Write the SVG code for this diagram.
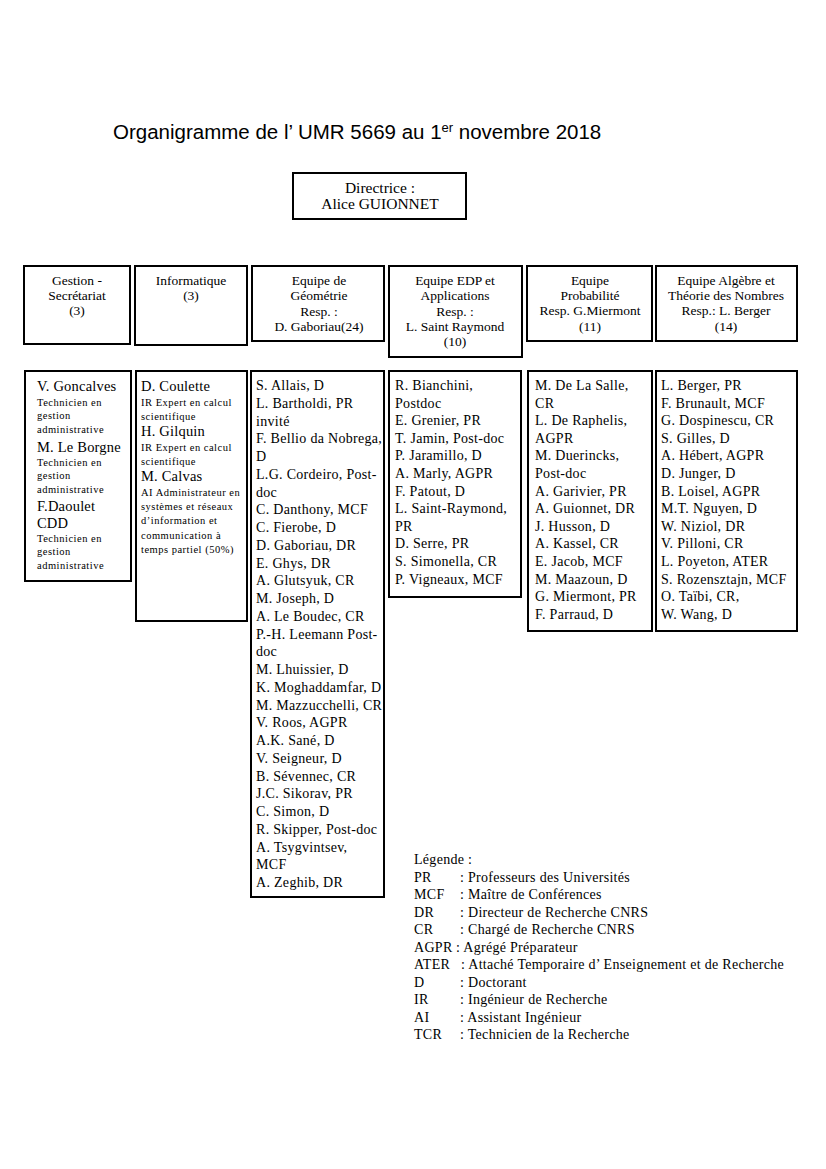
<svg xmlns="http://www.w3.org/2000/svg" width="826" height="1169" viewBox="0 0 826 1169">
<style>
.bx{fill:#fff;stroke:#000;stroke-width:2}
.t{font-family:"Liberation Serif","Times New Roman",serif;fill:#000}
.h{font-size:13.5px;text-anchor:middle}
.n{font-size:14px;letter-spacing:0.3px}
.nm{font-size:14.5px;letter-spacing:0.2px}
.ds{font-size:10.5px;letter-spacing:0.5px}
.lg{font-size:14px;letter-spacing:0.3px}
.title{font-family:"Liberation Sans",Arial,sans-serif;font-size:20.5px;fill:#000}
</style>
<rect width="826" height="1169" fill="#fff"/>
<text class="title" x="113" y="139">Organigramme de l’ UMR 5669 au 1<tspan font-size="13" dy="-7">er</tspan><tspan dy="7"> novembre 2018</tspan></text>

<g id="directrice">
<rect class="bx" x="293" y="173" width="173" height="46"/>
<text class="t" x="380" y="193" font-size="15.5" text-anchor="middle">Directrice :</text>
<text class="t" x="380" y="208.5" font-size="15.5" text-anchor="middle">Alice GUIONNET</text>
</g>

<g id="h-gestion">
<rect class="bx" x="24" y="266" width="106" height="78"/>
<text class="t h"><tspan x="77" y="285">Gestion -</tspan><tspan x="77" y="300">Secrétariat</tspan><tspan x="77" y="315">(3)</tspan></text>
</g>
<g id="h-info">
<rect class="bx" x="135" y="266" width="112" height="79"/>
<text class="t h"><tspan x="191" y="285">Informatique</tspan><tspan x="191" y="300">(3)</tspan></text>
</g>
<g id="h-geo">
<rect class="bx" x="252" y="266" width="132" height="75"/>
<text class="t h"><tspan x="319" y="285">Equipe de</tspan><tspan x="319" y="300">Géométrie</tspan><tspan x="319" y="315.5">Resp. :</tspan><tspan x="319" y="330.5">D. Gaboriau(24)</tspan></text>
</g>
<g id="h-edp">
<rect class="bx" x="389" y="266" width="133" height="91"/>
<text class="t h"><tspan x="455" y="285">Equipe EDP et</tspan><tspan x="455" y="300">Applications</tspan><tspan x="455" y="315.5">Resp. :</tspan><tspan x="455" y="330.5">L. Saint Raymond</tspan><tspan x="455" y="345.5">(10)</tspan></text>
</g>
<g id="h-proba">
<rect class="bx" x="527" y="266" width="125" height="75"/>
<text class="t h"><tspan x="590" y="285">Equipe</tspan><tspan x="590" y="300">Probabilité</tspan><tspan x="590" y="315">Resp. G.Miermont</tspan><tspan x="590" y="330.5">(11)</tspan></text>
</g>
<g id="h-algebre">
<rect class="bx" x="656" y="266" width="141" height="75"/>
<text class="t h"><tspan x="726" y="285">Equipe Algèbre et</tspan><tspan x="726" y="300">Théorie des Nombres</tspan><tspan x="726" y="315">Resp.: L. Berger</tspan><tspan x="726" y="330.5">(14)</tspan></text>
</g>

<g id="l-gestion">
<rect class="bx" x="25" y="371" width="106" height="210"/>
<text class="t nm" x="37" y="391">V. Goncalves</text>
<text class="t ds"><tspan x="37" y="405.5">Technicien en</tspan><tspan x="37" y="419">gestion</tspan><tspan x="37" y="432.5">administrative</tspan></text>
<text class="t nm" x="37" y="452">M. Le Borgne</text>
<text class="t ds"><tspan x="37" y="465.5">Technicien en</tspan><tspan x="37" y="479">gestion</tspan><tspan x="37" y="493">administrative</tspan></text>
<text class="t nm"><tspan x="37" y="511">F.Daoulet</tspan><tspan x="37" y="528">CDD</tspan></text>
<text class="t ds"><tspan x="37" y="541.5">Technicien en</tspan><tspan x="37" y="555">gestion</tspan><tspan x="37" y="569">administrative</tspan></text>
</g>

<g id="l-info">
<rect class="bx" x="136" y="371" width="111" height="250"/>
<text class="t nm" x="141" y="391">D. Coulette</text>
<text class="t ds"><tspan x="141" y="405.5">IR Expert en calcul</tspan><tspan x="141" y="419.5">scientifique</tspan></text>
<text class="t nm" x="141" y="436">H. Gilquin</text>
<text class="t ds"><tspan x="141" y="451">IR Expert en calcul</tspan><tspan x="141" y="465">scientifique</tspan></text>
<text class="t nm" x="141" y="481">M. Calvas</text>
<text class="t ds"><tspan x="141" y="496">AI Administrateur en</tspan><tspan x="141" y="510">systèmes et réseaux</tspan><tspan x="141" y="524">d’information et</tspan><tspan x="141" y="538.5">communication à</tspan><tspan x="141" y="553">temps partiel (50%)</tspan></text>
</g>

<g id="l-geo">
<rect class="bx" x="251" y="371" width="133" height="526"/>
<text class="t n"><tspan x="256" y="390">S. Allais, D</tspan><tspan x="256" dy="17.75">L. Bartholdi, PR</tspan><tspan x="256" dy="17.75">invité</tspan><tspan x="256" dy="17.75">F. Bellio da Nobrega,</tspan><tspan x="256" dy="17.75">D</tspan><tspan x="256" dy="17.75">L.G. Cordeiro, Post-</tspan><tspan x="256" dy="17.75">doc</tspan><tspan x="256" dy="17.75">C. Danthony, MCF</tspan><tspan x="256" dy="17.75">C. Fierobe, D</tspan><tspan x="256" dy="17.75">D. Gaboriau, DR</tspan><tspan x="256" dy="17.75">E. Ghys, DR</tspan><tspan x="256" dy="17.75">A. Glutsyuk, CR</tspan><tspan x="256" dy="17.75">M. Joseph, D</tspan><tspan x="256" dy="17.75">A. Le Boudec, CR</tspan><tspan x="256" dy="17.75">P.-H. Leemann Post-</tspan><tspan x="256" dy="17.75">doc</tspan><tspan x="256" dy="17.75">M. Lhuissier, D</tspan><tspan x="256" dy="17.75">K. Moghaddamfar, D</tspan><tspan x="256" dy="17.75">M. Mazzucchelli, CR</tspan><tspan x="256" dy="17.75">V. Roos, AGPR</tspan><tspan x="256" dy="17.75">A.K. Sané, D</tspan><tspan x="256" dy="17.75">V. Seigneur, D</tspan><tspan x="256" dy="17.75">B. Sévennec, CR</tspan><tspan x="256" dy="17.75">J.C. Sikorav, PR</tspan><tspan x="256" dy="17.75">C. Simon, D</tspan><tspan x="256" dy="17.75">R. Skipper, Post-doc</tspan><tspan x="256" dy="17.75">A. Tsygvintsev,</tspan><tspan x="256" dy="17.75">MCF</tspan><tspan x="256" dy="17.75">A. Zeghib, DR</tspan></text>
</g>

<g id="l-edp">
<rect class="bx" x="389" y="371" width="132" height="226"/>
<text class="t n"><tspan x="395" y="390">R. Bianchini,</tspan><tspan x="395" dy="17.6">Postdoc</tspan><tspan x="395" dy="17.6">E. Grenier, PR</tspan><tspan x="395" dy="17.6">T. Jamin, Post-doc</tspan><tspan x="395" dy="17.6">P. Jaramillo, D</tspan><tspan x="395" dy="17.6">A. Marly, AGPR</tspan><tspan x="395" dy="17.6">F. Patout, D</tspan><tspan x="395" dy="17.6">L. Saint-Raymond,</tspan><tspan x="395" dy="17.6">PR</tspan><tspan x="395" dy="17.6">D. Serre, PR</tspan><tspan x="395" dy="17.6">S. Simonella, CR</tspan><tspan x="395" dy="17.6">P. Vigneaux, MCF</tspan></text>
</g>

<g id="l-proba">
<rect class="bx" x="528" y="371" width="124" height="260"/>
<text class="t n"><tspan x="535" y="390">M. De La Salle,</tspan><tspan x="535" dy="17.6">CR</tspan><tspan x="535" dy="17.6">L. De Raphelis,</tspan><tspan x="535" dy="17.6">AGPR</tspan><tspan x="535" dy="17.6">M. Duerincks,</tspan><tspan x="535" dy="17.6">Post-doc</tspan><tspan x="535" dy="17.6">A. Garivier, PR</tspan><tspan x="535" dy="17.6">A. Guionnet, DR</tspan><tspan x="535" dy="17.6">J. Husson, D</tspan><tspan x="535" dy="17.6">A. Kassel, CR</tspan><tspan x="535" dy="17.6">E. Jacob, MCF</tspan><tspan x="535" dy="17.6">M. Maazoun, D</tspan><tspan x="535" dy="17.6">G. Miermont, PR</tspan><tspan x="535" dy="17.6">F. Parraud, D</tspan></text>
</g>

<g id="l-algebre">
<rect class="bx" x="656" y="371" width="141" height="260"/>
<text class="t n"><tspan x="661" y="390">L. Berger, PR</tspan><tspan x="661" dy="17.6">F. Brunault, MCF</tspan><tspan x="661" dy="17.6">G. Dospinescu, CR</tspan><tspan x="661" dy="17.6">S. Gilles, D</tspan><tspan x="661" dy="17.6">A. Hébert, AGPR</tspan><tspan x="661" dy="17.6">D. Junger, D</tspan><tspan x="661" dy="17.6">B. Loisel, AGPR</tspan><tspan x="661" dy="17.6">M.T. Nguyen, D</tspan><tspan x="661" dy="17.6">W. Niziol, DR</tspan><tspan x="661" dy="17.6">V. Pilloni, CR</tspan><tspan x="661" dy="17.6">L. Poyeton, ATER</tspan><tspan x="661" dy="17.6">S. Rozensztajn, MCF</tspan><tspan x="661" dy="17.6">O. Taïbi, CR,</tspan><tspan x="661" dy="17.6">W. Wang, D</tspan></text>
</g>

<g id="legende" class="t lg">
<text x="414" y="864">Légende :</text>
<text x="414" y="881.5">PR</text><text x="460" y="881.5">: Professeurs des Universités</text>
<text x="414" y="899">MCF</text><text x="460" y="899">: Maître de Conférences</text>
<text x="414" y="916.5">DR</text><text x="460" y="916.5">: Directeur de Recherche CNRS</text>
<text x="414" y="934">CR</text><text x="460" y="934">: Chargé de Recherche CNRS</text>
<text x="414" y="951.5">AGPR</text><text x="456" y="951.5">: Agrégé Préparateur</text>
<text x="414" y="969">ATER</text><text x="461" y="969">: Attaché Temporaire d’ Enseignement et de Recherche</text>
<text x="414" y="986.5">D</text><text x="460" y="986.5">: Doctorant</text>
<text x="414" y="1004">IR</text><text x="460" y="1004">: Ingénieur de Recherche</text>
<text x="414" y="1021.5">AI</text><text x="460" y="1021.5">: Assistant Ingénieur</text>
<text x="414" y="1039">TCR</text><text x="460" y="1039">: Technicien de la Recherche</text>
</g>
</svg>
